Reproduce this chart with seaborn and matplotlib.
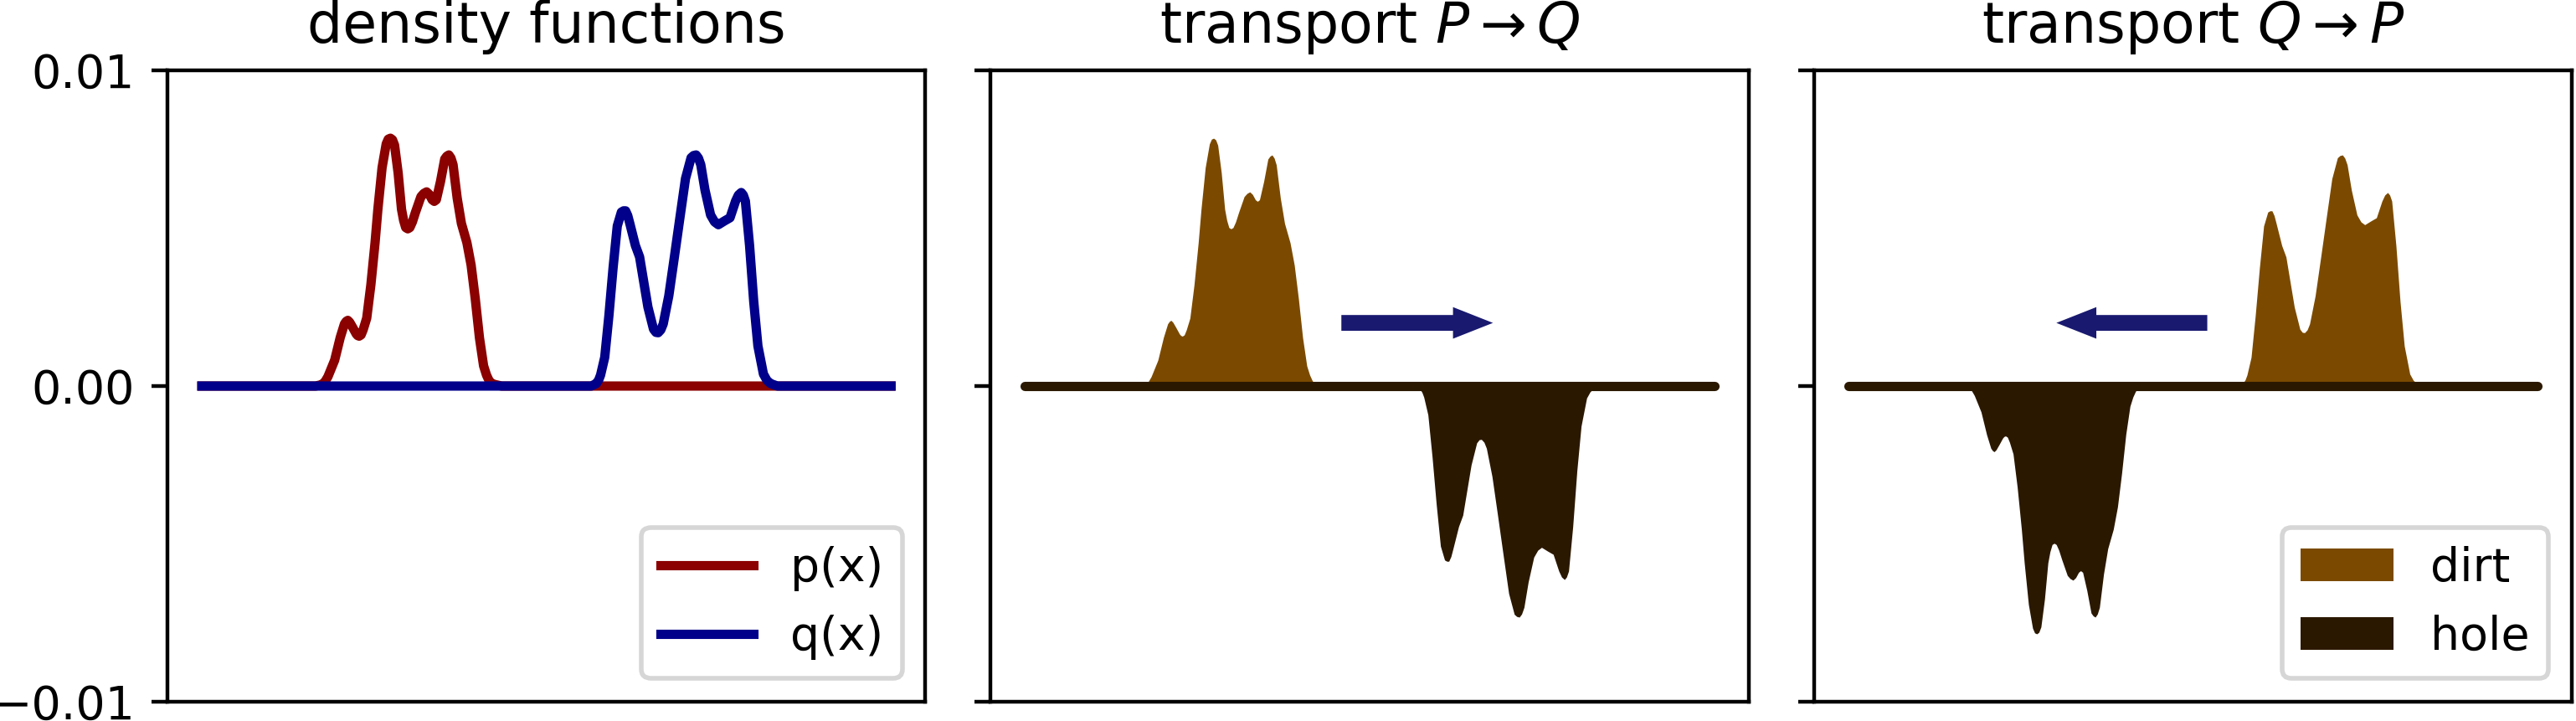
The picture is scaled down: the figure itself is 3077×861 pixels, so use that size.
import numpy as np
import matplotlib
matplotlib.use("Agg")
import matplotlib.pyplot as plt
import seaborn as sns

# values (density values in units of 1e-3)
x_p = [0, 16.5, 17.45, 17.9, 18.3, 19.27, 20.08, 20.69, 20.95, 21.18, 21.45, 21.9, 22.4,
       22.6, 22.82, 23.1, 23.4, 23.92, 24.52, 25.13, 25.54, 26.15, 26.75, 27.05, 27.36,
       27.66, 27.96, 28.48, 28.97, 29.27, 29.58, 29.88, 30.18, 30.55, 30.99, 31.79,
       32.2, 32.61, 33.0, 33.42, 33.72, 34.02, 34.63, 35.24, 35.54, 35.84, 36.15,
       36.45, 37.05, 37.66, 38.46, 39.07, 39.67, 40.28, 40.88, 41.3, 41.70, 42.1,
       42.51, 43.5, 100]
p_milli = [0, 0, 0.05, 0.15, 0.3, 0.82, 1.54, 1.97, 2.05, 2.08, 2.02, 1.85, 1.65,
           1.6, 1.58, 1.62, 1.78, 2.15, 3.2, 4.54, 5.6, 6.92, 7.67, 7.82, 7.85,
           7.8, 7.63, 6.75, 5.6, 5.25, 5.02, 4.98, 5.02, 5.2, 5.5, 6.0,
           6.1, 6.15, 6.07, 5.9, 5.85, 5.9, 6.48, 7.19, 7.28, 7.32, 7.22,
           7.01, 5.95, 5.15, 4.54, 3.83, 2.77, 1.53, 0.64, 0.35, 0.16, 0.08,
           0.05, 0, 0]

x_q = [0, 56.5, 57.25, 57.6, 57.86, 58.46, 59.07, 59.67, 60.28, 60.88, 61.2, 61.49,
       61.8, 62.10, 62.91, 63.52, 64.12, 64.73, 65.54, 65.9, 66.22, 66.6, 66.95,
       67.76, 68.57, 69.37, 70.18, 70.99, 71.35, 71.72, 72.06, 72.40, 73.01, 73.82,
       74.4, 74.95, 75.84, 76.64, 77.45, 77.86, 78.27, 78.57, 78.87, 79.48, 80.08,
       80.69, 81.49, 82.0, 82.51, 83.52, 100]
q_milli = [0, 0, 0.08, 0.2, 0.35, 0.91, 2.24, 3.74, 5.07, 5.51, 5.55, 5.55,
           5.4, 5.15, 4.45, 4.09, 3.30, 2.5, 1.8, 1.7, 1.69, 1.78, 1.97,
           2.86, 4.09, 5.33, 6.57, 7.23, 7.3, 7.32, 7.22, 7.01, 6.21, 5.42,
           5.2, 5.11, 5.23, 5.33, 5.86, 6.05, 6.13, 6.05, 5.86, 4.45, 2.68,
           1.27, 0.38, 0.18, 0.08, 0, 0]

p = np.array(p_milli) * 1e-3
q = np.array(q_milli) * 1e-3

titles = ["density functions", r"transport $P \rightarrow Q$", r"transport $Q \rightarrow P$"]
y_ticks = [-0.01, 0.0, 0.01]

# arrows: (start x, length) in x units, at height 0.002
arrow_pq = (45.9, 22.0)
arrow_qp = (52.1, -21.9)

red, blue = "#8b0000", "#00008b"
dirt, hole = "#7b4a00", "#2b1800"
arrow_col = "midnightblue"

fig, axes = plt.subplots(1, 3, figsize=(3077 / 400, 861 / 400), dpi=400, sharey=True)
fig.subplots_adjust(left=200 / 3077, right=3072 / 3077, top=1 - 84 / 861,
                    bottom=1 - 838 / 861, wspace=0.086)

# panel 1 : the two densities
ax = axes[0]
sns.lineplot(x=x_p, y=p, color=red, lw=2, label="p(x)", ax=ax)
sns.lineplot(x=x_q, y=q, color=blue, lw=2, label="q(x)", ax=ax)
ax.legend(loc="lower right")

# panel 2 and 3 : dirt and holes
def transport(ax, x_d, d, x_h, h, arrow, show_legend):
    ax.fill_between(x_d, d, color=dirt, lw=0, label="dirt")
    ax.fill_between(x_h, -h, color=hole, lw=0, label="hole")
    sns.lineplot(x=x_d, y=d * 0, color=hole, lw=2, ax=ax, legend=False,
                 solid_capstyle="round")
    ax.arrow(arrow[0], 0.002, arrow[1], 0, width=0.0005, head_width=0.001,
             head_length=5.8, length_includes_head=True, color=arrow_col, lw=0)
    if show_legend:
        ax.legend(loc="lower right")
    elif ax.get_legend() is not None:
        ax.get_legend().remove()

transport(axes[1], x_p, p, x_q, q, arrow_pq, False)
transport(axes[2], x_q, q, x_p, p, arrow_qp, True)

for ax, t in zip(axes, titles):
    ax.set_title(t)
    ax.set_xticks([])
    ax.set_ylim(-0.01, 0.01)
    ax.set_yticks(y_ticks)
    ax.set_xlabel("")
    ax.set_ylabel("")

fig.savefig("out.png", dpi=400)
